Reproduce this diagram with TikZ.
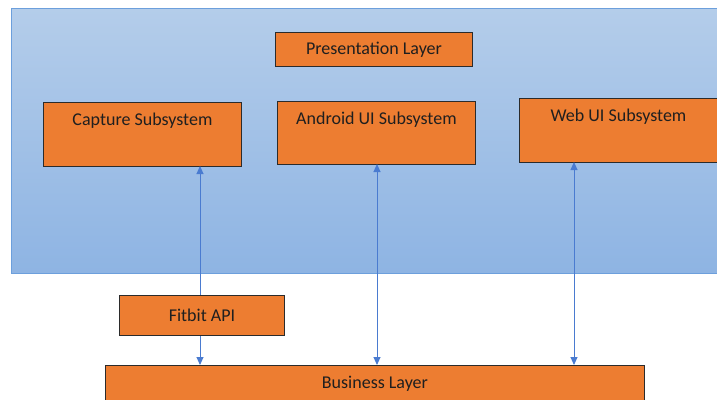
\documentclass[tikz,border=0pt]{standalone}
\usepackage{fontspec}
\setmainfont{Carlito}
\usetikzlibrary{arrows.meta}
\definecolor{layerTop}{HTML}{B4CDEA}
\definecolor{layerBot}{HTML}{8EB4E3}
\definecolor{layerEdge}{HTML}{6C9FDC}
\definecolor{boxFill}{HTML}{ED7D31}
\definecolor{boxEdge}{HTML}{2B2B2B}
\definecolor{link}{HTML}{4A7BD0}
\tikzset{
  txt/.style={font=\fontsize{18}{20}\selectfont, text=black!88},
  box/.style={draw=boxEdge, line width=0.9pt, fill=boxFill, anchor=north west,
    inner sep=0pt, txt},
  toplabel/.style={anchor=base, inner sep=0pt, yshift=-23pt, txt},
  linkarrow/.style={draw=link, line width=0.9pt,
    {Triangle[width=7pt,length=8pt]}-{Triangle[width=7pt,length=8pt]}},
}
\begin{document}
\begin{tikzpicture}[x=1pt,y=1pt]
\useasboundingbox (0,0) rectangle (717,-399);
% presentation layer band
\path[top color=layerTop, bottom color=layerBot, draw=layerEdge, line width=0.9pt]
  (11,-8) rectangle (730,-273);
\node[box, minimum width=197pt, minimum height=34pt] (pres) at (275,-32) {Presentation Layer};
\node[box, minimum width=198pt, minimum height=64pt,
  label={[toplabel]north:Capture Subsystem}] (cap) at (43,-102) {};
\node[box, minimum width=198pt, minimum height=63pt,
  label={[toplabel]north:Android UI Subsystem}] (andr) at (277,-101) {};
\node[box, minimum width=198pt, minimum height=64pt,
  label={[toplabel]north:Web UI Subsystem}] (web) at (519,-98) {};
% business layer
\node[box, minimum width=539pt, minimum height=50pt,
  label={[toplabel]north:Business Layer}] (bus) at (105,-365) {};
% links between layers
\coordinate (c1) at (200,-166);
\coordinate (b1) at (200,-365);
\coordinate (c2) at (377,-164);
\coordinate (b2) at (377,-365);
\coordinate (c3) at (574,-162);
\coordinate (b3) at (574,-365);
\draw[linkarrow] (c1) -- (b1);
\draw[linkarrow] (c2) -- (b2);
\draw[linkarrow] (c3) -- (b3);
\node[box, minimum width=165pt, minimum height=40pt] (fit) at (119,-295) {Fitbit API};
\end{tikzpicture}
\end{document}
